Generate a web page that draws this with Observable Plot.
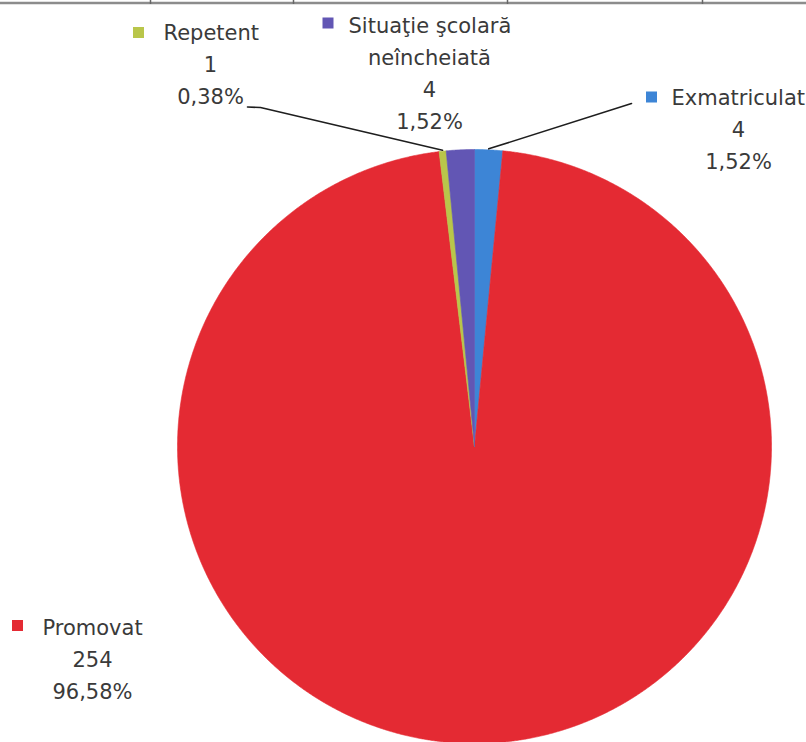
<!DOCTYPE html>
<html><head><meta charset="utf-8">
<script src="https://cdn.jsdelivr.net/npm/d3@7"></script>
<script src="https://cdn.jsdelivr.net/npm/@observablehq/plot@0.6"></script>
<style>body{margin:0;background:#fff;}</style>
</head><body><div id="chart"></div>
<script>
// ---- data ----
const categories = ["Exmatriculat", "Promovat", "Repetent", "Situaţie şcolară neîncheiată"];
const counts = [4, 254, 1, 4];
const nameLines = [["Exmatriculat"], ["Promovat"], ["Repetent"], ["Situaţie şcolară", "neîncheiată"]];
const colors = ["#3d85d6", "#e42a33", "#b9c64a", "#6256b4"];

// ---- layout (pixels) ----
const W = 806, H = 742;
const cx = 474, cy = 446, R = 297;
const lineGap = 32;
const labelLayout = [
  {x0: 671, xc: 738, y0: 98,  sq: [651.5, 97],  leader: [[631, 103]]},
  {x0: 42,  xc: 92,  y0: 628, sq: [17.5, 625.5], leader: null},
  {x0: 163, xc: 210, y0: 33,  sq: [138.5, 32.5], leader: [[247, 106.5], [260, 107]]},
  {x0: 348, xc: 429, y0: 26,  sq: [328, 23],    leader: null}
];

const total = d3.sum(counts);
const pct = v => (v / total * 100).toFixed(2).replace(".", ",") + "%";
const arcs = d3.pie().sort(null).value(d => d)(counts);
const pt = (a, r) => [cx + r * Math.sin(a), cy - r * Math.cos(a)];

// slice polygons
const slicePts = arcs.flatMap((p, i) => {
  const n = Math.max(2, Math.ceil((p.endAngle - p.startAngle) / 0.004));
  const pts = [{name: categories[i], x: cx, y: cy}];
  for (let k = 0; k <= n; k++) {
    const a = p.startAngle + (p.endAngle - p.startAngle) * k / n;
    const [x, y] = pt(a, R);
    pts.push({name: categories[i], x, y});
  }
  pts.push({name: categories[i], x: cx, y: cy});
  return pts;
});

// leader lines
const leaderPts = arcs.flatMap((p, i) => {
  const L = labelLayout[i].leader;
  if (!L) return [];
  const [sx, sy] = pt((p.startAngle + p.endAngle) / 2, R + 1);
  return [...L.map(([x, y]) => ({name: categories[i], x, y})), {name: categories[i], x: sx, y: sy}];
});

// texts
const firstRows = [], otherRows = [];
categories.forEach((c, i) => {
  const L = labelLayout[i];
  const lines = [...nameLines[i], String(counts[i]), pct(counts[i])];
  lines.forEach((t, j) => {
    if (j === 0) firstRows.push({t, x: L.x0, y: L.y0});
    else otherRows.push({t, x: L.xc, y: L.y0 + j * lineGap});
  });
});
const squares = categories.map((c, i) => ({
  name: c,
  x1: labelLayout[i].sq[0] - 5.5, x2: labelLayout[i].sq[0] + 5.5,
  y1: labelLayout[i].sq[1] - 5.5, y2: labelLayout[i].sq[1] + 5.5
}));

const borderTicks = [150, 293, 507, 702];
const textColor = "#3a3a3a";

const chart = Plot.plot({
  width: W, height: H,
  margin: 0,
  x: {type: "identity", axis: null},
  y: {type: "identity", axis: null},
  color: {domain: categories, range: colors},
  style: {fontFamily: "DejaVu Sans", background: "#fff"},
  marks: [
    Plot.ruleY([2.5], {stroke: "#8c8c8c", strokeWidth: 2.5}),
    Plot.ruleX(borderTicks, {y1: 0, y2: 4, stroke: "#666", strokeWidth: 1.5}),
    Plot.line(slicePts, {x: "x", y: "y", z: "name", fill: "name", stroke: "name", strokeWidth: 0.6, curve: "linear"}),
    Plot.line(leaderPts, {x: "x", y: "y", z: "name", stroke: "#1e1e1e", strokeWidth: 1.6}),
    Plot.rect(squares, {x1: "x1", x2: "x2", y1: "y1", y2: "y2", fill: "name"}),
    Plot.text(firstRows, {x: "x", y: "y", text: "t", textAnchor: "start", fontSize: 21, fill: textColor}),
    Plot.text(otherRows, {x: "x", y: "y", text: "t", textAnchor: "middle", fontSize: 21, fill: textColor})
  ]
});
document.getElementById("chart").append(chart);
</script>
</body></html>
